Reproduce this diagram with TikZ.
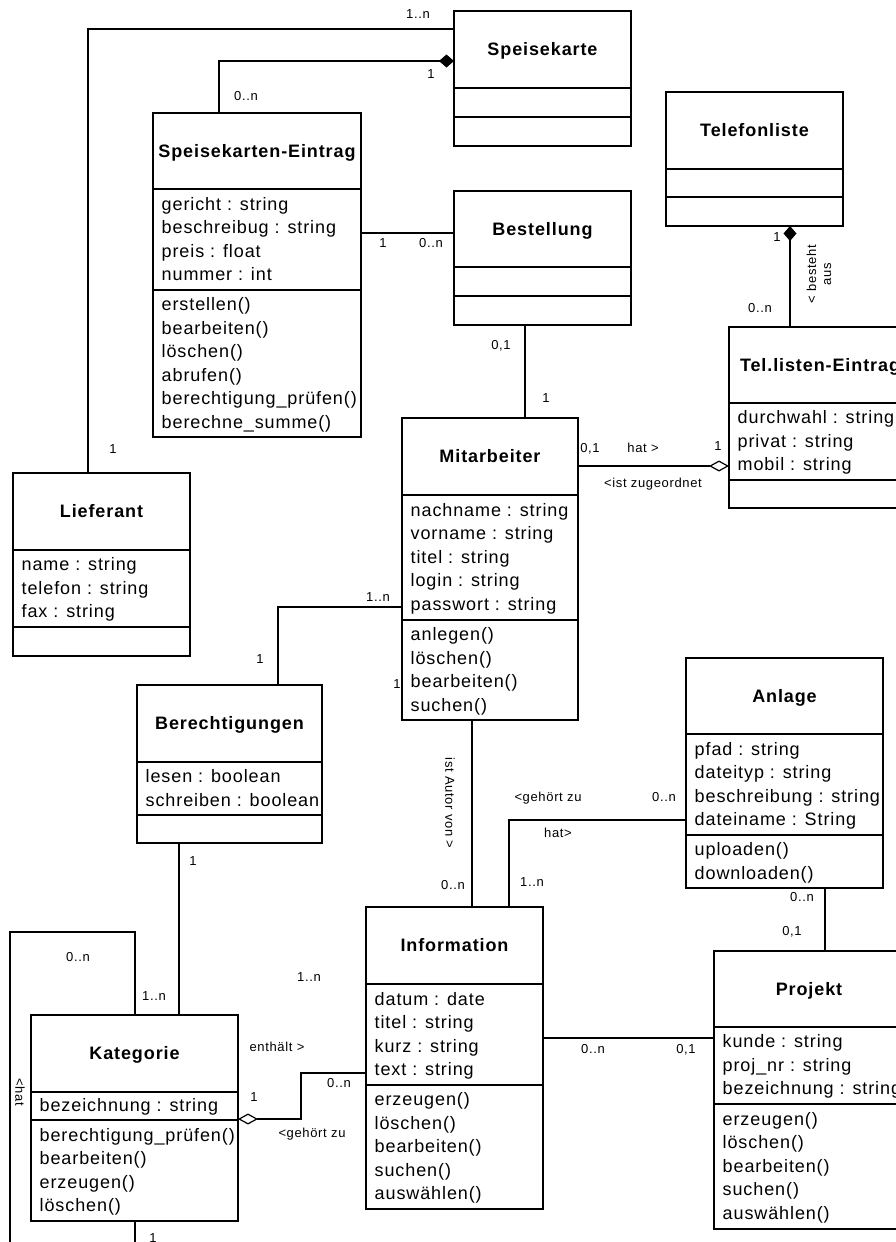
\documentclass[tikz,border=0pt]{standalone}
\usepackage{fontspec}
\setmainfont{Liberation Sans}[LetterSpace=5]
\usetikzlibrary{arrows.meta}
\newcommand\attrfont{\fontsize{18}{23.5}\selectfont}
\newcommand\titlefont{\bfseries\fontsize{18}{22}\selectfont}
\newcommand\labfont{\fontsize{13}{15}\selectfont}
\newcommand\sL{\rule[-9.5pt]{0pt}{23.5pt}}
\tikzset{
 classbox/.style={draw, line width=2pt, rectangle, inner sep=0pt, outer sep=0pt},
 divider/.style={line width=2pt},
 titletext/.style={anchor=base, inner sep=0pt, font=\titlefont},
 comptext/.style={anchor=west, align=left, inner sep=0pt, font=\attrfont},
 assoc/.style={line width=2pt},
 thinassoc/.style={line width=1.2pt},
 lab/.style={inner sep=0pt, font=\labfont, text height=9.3pt, text depth=0pt},
 rlab/.style={inner sep=0pt, font=\labfont, align=center},
 compo/.tip={Diamond[length=15pt,width=13pt,fill=black]},
 aggro/.tip={Diamond[open,length=20pt,width=11pt,fill=white]},
}
\newcommand\umlclass[8]{%
 \node[classbox, anchor=north west, minimum width={(#4-#2)*1pt}, minimum height={(#5-#3)*1pt}] (#1) at (#2,#3) {};
 \draw[divider] (#2,#6) -- (#4,#6) (#2,#7) -- (#4,#7);
 \node[titletext] (#1-t) at ({(#2+#4)/2},{(#3+#6)/2+6.4}) {#8};
}
\newcommand\compart[5]{\node[comptext] (#1) at ({#2+8.5},{(#3+#4)/2+3.5}) {#5};}
\begin{document}
\begin{tikzpicture}[x=1pt,y=-1pt]
\useasboundingbox (0,0) rectangle (896,1242);
\fill[white] (0,0) rectangle (896,1242);
\clip (0,0) rectangle (896,1242);

% classes
\umlclass{spk}{454}{11}{631}{146}{88}{117}{Speisekarte}
\umlclass{telf}{666}{92}{843}{226}{169}{197}{Telefonliste}
\umlclass{best}{454}{191}{631}{325}{267}{296}{Bestellung}
\umlclass{spke}{153}{113}{361}{437}{189}{290}{Speisekarten-Eintrag}
\compart{spke-a}{153}{189}{290}{\sL gericht : string\\\sL beschreibug : string\\\sL preis : float\\\sL nummer : int}
\compart{spke-m}{153}{290}{437}{\sL erstellen()\\\sL bearbeiten()\\\sL löschen()\\\sL abrufen()\\\sL berechtigung\_prüfen()\\\sL berechne\_summe()}
\umlclass{lief}{13}{473}{190}{656}{550}{627}{Lieferant}
\compart{lief-a}{13}{550}{627}{\sL name : string\\\sL telefon : string\\\sL fax : string}
\umlclass{mit}{402}{418}{578}{720}{495}{620}{Mitarbeiter}
\compart{mit-a}{402}{495}{620}{\sL nachname : string\\\sL vorname : string\\\sL titel : string\\\sL login : string\\\sL passwort : string}
\compart{mit-m}{402}{620}{720}{\sL anlegen()\\\sL löschen()\\\sL bearbeiten()\\\sL suchen()}
\umlclass{tele}{729}{327}{911}{508}{403}{480}{Tel.listen-Eintrag}
\compart{tele-a}{729}{403}{480}{\sL durchwahl : string\\\sL privat : string\\\sL mobil : string}
\umlclass{ber}{137}{685}{322}{843}{762}{815}{Berechtigungen}
\compart{ber-a}{137}{762}{815}{\sL lesen : boolean\\\sL schreiben : boolean}
\umlclass{anl}{686}{658}{883}{888}{734}{835}{Anlage}
\compart{anl-a}{686}{734}{835}{\sL pfad : string\\\sL dateityp : string\\\sL beschreibung : string\\\sL dateiname : String}
\compart{anl-m}{686}{835}{888}{\sL uploaden()\\\sL downloaden()}
\umlclass{info}{366}{907}{543}{1209}{984}{1085}{Information}
\compart{info-a}{366}{984}{1085}{\sL datum : date\\\sL titel : string\\\sL kurz : string\\\sL text : string}
\compart{info-m}{366}{1085}{1209}{\sL erzeugen()\\\sL löschen()\\\sL bearbeiten()\\\sL suchen()\\\sL auswählen()}
\umlclass{kat}{31}{1015}{238}{1221}{1092}{1120}{Kategorie}
\compart{kat-a}{31}{1092}{1120}{\sL bezeichnung : string}
\compart{kat-m}{31}{1120}{1221}{\sL berechtigung\_prüfen()\\\sL bearbeiten()\\\sL erzeugen()\\\sL löschen()}
\umlclass{proj}{714}{951}{904}{1229}{1027}{1104}{Projekt}
\compart{proj-a}{714}{1027}{1104}{\sL kunde : string\\\sL proj\_nr : string\\\sL bezeichnung : string}
\compart{proj-m}{714}{1104}{1229}{\sL erzeugen()\\\sL löschen()\\\sL bearbeiten()\\\sL suchen()\\\sL auswählen()}

% bend points
\coordinate (k1) at (88,29);
\coordinate (k2) at (219,61);
\coordinate (k3) at (0,233);
\coordinate (k4) at (525,0);
\coordinate (k5) at (0,466);
\coordinate (k6) at (790,0);
\coordinate (k7) at (278,607);
\coordinate (k8) at (179,0);
\coordinate (k9a) at (135,932);
\coordinate (k9b) at (10,1252);
\coordinate (k10) at (472,0);
\coordinate (k11) at (509,820);
\coordinate (k12) at (825,0);
\coordinate (k13) at (0,1038);
\coordinate (k14a) at (0,1119);
\coordinate (k14b) at (301,1073);

% connectors
\draw[assoc] (lief.north -| k1) |- (spk.west |- k1);
\draw[thinassoc, compo-] (spk.west |- k2) -| (spke.north -| k2);
\draw[thinassoc, line width=1.6pt] (spke.east |- k3) -- (best.west |- k3);
\draw[assoc] (best.south -| k4) -- (mit.north -| k4);
\draw[thinassoc, -aggro] (mit.east |- k5) -- (tele.west |- k5);
\draw[assoc, compo-] (telf.south -| k6) -- (tele.north -| k6);
\draw[assoc] (mit.west |- k7) -| (ber.north -| k7);
\draw[assoc] (ber.south -| k8) -- (kat.north -| k8);
\draw[assoc] (kat.north -| k9a) -- (k9a) -| (k9b) -| (kat.south -| k9a);
\draw[assoc] (mit.south -| k10) -- (info.north -| k10);
\draw[assoc] (info.north -| k11) |- (anl.west |- k11);
\draw[assoc] (anl.south -| k12) -- (proj.north -| k12);
\draw[assoc] (info.east |- k13) -- (proj.west |- k13);
\draw[thinassoc, aggro-] (kat.east |- k14a) -| (k14b) -- (info.west |- k14b);

% labels
\node[lab] (l1) at (418,14) {1..n};
\node[lab] (l2) at (431,74) {1};
\node[lab] (l3) at (246,96) {0..n};
\node[lab] (l4) at (383,243) {1};
\node[lab] (l5) at (431,243) {0..n};
\node[lab] (l6) at (113,449) {1};
\node[lab] (l7) at (501,345) {0,1};
\node[lab] (l8) at (546,398) {1};
\node[lab] (l9) at (590,448) {0,1};
\node[lab] (l10) at (643,448) {hat >};
\node[lab] (l11) at (718,446) {1};
\node[lab] (l12) at (653,483) {<ist zugeordnet};
\node[lab] (l13) at (777,237) {1};
\node[lab] (l14) at (760,308) {0..n};
\node[rlab, rotate=90] (l15) at (819,274) {< besteht\\aus};
\node[lab] (l16) at (378,597) {1..n};
\node[lab] (l17) at (260,659) {1};
\node[lab] (l18) at (397,684) {1};
\node[lab] (l19) at (193,861) {1};
\node[lab] (l20) at (154,996) {1..n};
\node[lab] (l21) at (78,957) {0..n};
\node[rlab, rotate=-90] (l22) at (20,1092) {<hat};
\node[lab] (l23) at (153,1238) {1};
\node[rlab, rotate=-90] (l24) at (450,803) {ist Autor von >};
\node[lab] (l25) at (453,885) {0..n};
\node[lab] (l26) at (548,797) {<gehört zu};
\node[lab] (l27) at (664,797) {0..n};
\node[lab] (l28) at (558,833) {hat>};
\node[lab] (l29) at (532,882) {1..n};
\node[lab] (l30) at (802,897) {0..n};
\node[lab] (l31) at (792,931) {0,1};
\node[lab] (l32) at (593,1049) {0..n};
\node[lab] (l33) at (686,1049) {0,1};
\node[lab] (l34) at (277,1047) {enthält >};
\node[lab] (l35) at (254,1097) {1};
\node[lab] (l36) at (339,1083) {0..n};
\node[lab] (l37) at (312,1133) {<gehört zu};
\node[lab] (l38) at (309,977) {1..n};
\end{tikzpicture}
\end{document}
